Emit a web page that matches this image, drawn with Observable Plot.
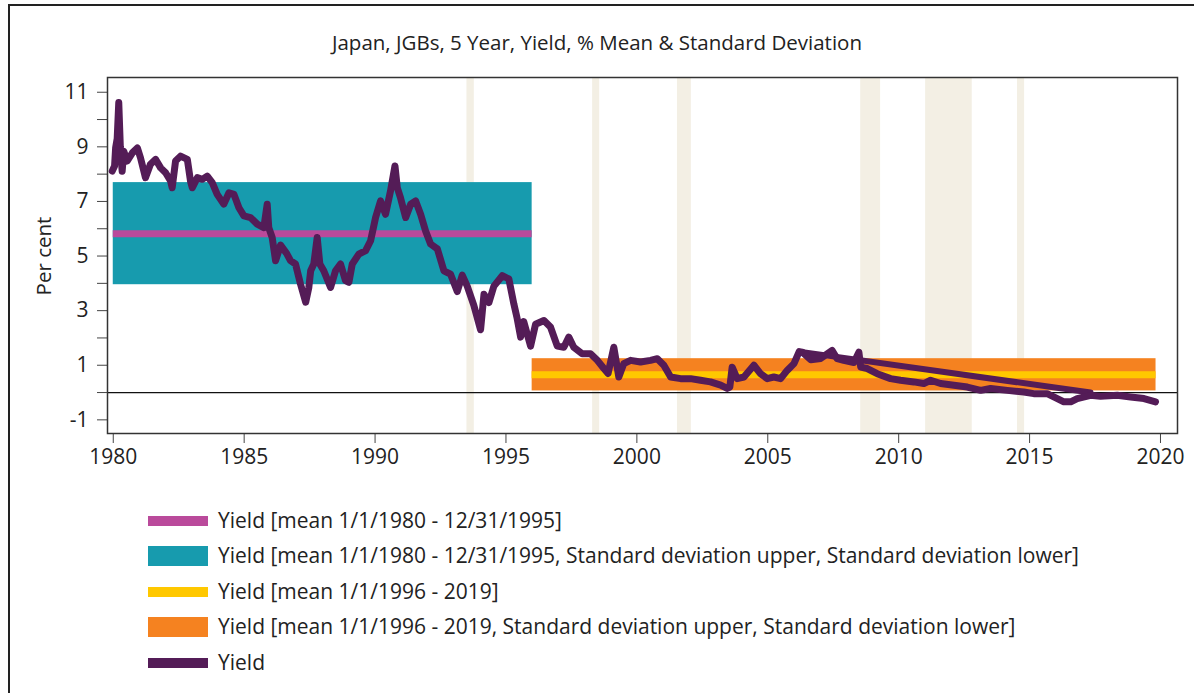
<!DOCTYPE html>
<html><head><meta charset="utf-8">
<script src="https://cdn.jsdelivr.net/npm/d3@7"></script>
<script src="https://cdn.jsdelivr.net/npm/@observablehq/plot@0.6"></script>
<style>
body{margin:0;background:#fff;}
#wrap{position:relative;width:1194px;height:693px;overflow:hidden;font-family:"Open Sans",sans-serif;color:#222;background:#fff;}
#bt{position:absolute;left:8px;top:4px;width:1186px;height:2px;background:#222;}
#bl{position:absolute;left:8px;top:4px;width:2px;height:689px;background:#222;}
#title{position:absolute;left:0;width:1194px;top:27px;text-align:center;font-size:20.5px;line-height:30px;}
#chart{position:absolute;left:0;top:65px;}
#ylab{position:absolute;left:43px;top:256px;transform:translate(-50%,-50%) rotate(-90deg);font-size:20.5px;white-space:nowrap;line-height:24px;}
.row{position:absolute;left:148px;height:36px;}
.sw{position:absolute;left:0;width:60px;}
.lt{position:absolute;left:70px;top:-1px;font-size:21px;line-height:36px;white-space:nowrap;}
</style></head>
<body><div id="wrap"><div id="bt"></div><div id="bl"></div>
<div id="title">Japan, JGBs, 5 Year, Yield, % Mean &amp; Standard Deviation</div>
<div id="chart"></div>
<div id="ylab">Per cent</div>
<div id="legend"></div>
</div>
<script>
// Yield series (decimal year, per cent)
const years = [1979.96,1980.05,1980.09,1980.15,1980.21,1980.27,1980.34,1980.40,1980.53,1980.73,1980.92,1981.04,1981.23,1981.42,1981.62,1981.81,1982.0,1982.19,1982.25,1982.38,1982.57,1982.83,1982.95,1983.02,1983.21,1983.40,1983.59,1983.78,1983.97,1984.22,1984.42,1984.61,1984.80,1984.99,1985.24,1985.50,1985.75,1985.88,1985.94,1986.07,1986.20,1986.39,1986.62,1986.77,1986.96,1987.15,1987.35,1987.47,1987.54,1987.66,1987.79,1987.89,1988.04,1988.30,1988.49,1988.68,1988.87,1989.0,1989.13,1989.38,1989.64,1989.83,1990.02,1990.21,1990.40,1990.59,1990.76,1990.85,1990.97,1991.17,1991.36,1991.55,1991.74,1991.93,1992.12,1992.38,1992.63,1992.88,1993.14,1993.33,1993.52,1993.77,1994.03,1994.16,1994.35,1994.54,1994.86,1995.11,1995.30,1995.43,1995.56,1995.68,1995.94,1996.13,1996.45,1996.70,1996.96,1997.21,1997.40,1997.59,1997.91,1998.23,1998.49,1998.74,1998.90,1999.12,1999.31,1999.50,1999.76,2000.14,2000.52,2000.78,2001.03,2001.29,2001.67,2002.05,2002.43,2002.81,2003.20,2003.45,2003.55,2003.64,2003.83,2004.09,2004.47,2004.72,2004.98,2005.23,2005.49,2005.74,2006.0,2006.2,2006.32,2006.64,2007.02,2007.46,2007.65,2007.9,2008.29,2008.48,2008.55,2008.8,2009.18,2009.69,2010.07,2010.58,2010.96,2011.22,2011.6,2012.11,2012.62,2013.13,2013.51,2014.15,2014.78,2015.16,2015.67,2016.06,2016.31,2016.57,2016.82,2017.33,2017.71,2018.35,2018.86,2019.37,2019.81];
const yields = [8.11,8.3,8.96,9.3,10.62,9.0,8.11,8.84,8.48,8.78,8.96,8.6,7.87,8.36,8.54,8.23,8.05,7.75,7.5,8.48,8.66,8.54,7.75,7.5,7.87,7.81,7.93,7.69,7.26,6.9,7.32,7.26,6.77,6.47,6.41,6.17,6.04,6.9,6.04,5.68,4.83,5.4,5.1,4.83,4.71,3.98,3.31,3.85,4.46,4.71,5.68,4.71,4.46,3.85,4.46,4.71,4.1,4.04,4.71,5.07,5.2,5.56,6.41,7.02,6.53,7.38,8.3,7.5,7.14,6.41,6.9,7.02,6.53,5.92,5.44,5.26,4.46,4.34,3.7,4.3,3.9,3.2,2.3,3.6,3.3,3.9,4.28,4.16,3.25,2.7,2.03,2.6,1.7,2.5,2.64,2.4,1.7,1.66,2.03,1.66,1.42,1.42,1.18,0.88,0.7,1.66,0.57,1.06,1.18,1.12,1.18,1.24,1.0,0.57,0.51,0.51,0.45,0.39,0.27,0.15,0.2,0.93,0.51,0.57,1.0,0.69,0.51,0.57,0.51,0.81,1.06,1.5,1.48,1.2,1.25,1.54,1.24,1.18,1.1,1.48,0.93,0.88,0.69,0.51,0.45,0.39,0.33,0.45,0.33,0.27,0.2,0.08,0.15,0.08,0.02,-0.04,-0.04,-0.22,-0.34,-0.34,-0.22,-0.1,-0.14,-0.1,-0.16,-0.22,-0.34];
// stray straight segment in the source series
const strayYears = [2006.2, 2017.33];
const strayYields = [1.5, 0.0];

// Sub-period means and standard deviation bands
const periodStart = [1980, 1996];
const periodEnd = [1996, 2019.83];
const periodMean = [5.82, 0.65];
const periodUpper = [7.69, 1.24];
const periodLower = [3.95, 0.06];

// Shaded periods
const shadeStart = [1993.51, 1998.31, 2001.55, 2008.55, 2011.03, 2014.54];
const shadeEnd = [1993.79, 1998.58, 2002.08, 2009.31, 2012.81, 2014.81];

// Axes
const xTicks = [1980, 1985, 1990, 1995, 2000, 2005, 2010, 2015, 2020];
const yTicks = [-1, 0, 1, 2, 3, 4, 5, 6, 7, 8, 9, 10, 11];
const yTickLabels = {"-1":"-1","1":"1","3":"3","5":"5","7":"7","9":"9","11":"11"};

// Legend
const legendLabels = [
  "Yield [mean 1/1/1980 - 12/31/1995]",
  "Yield [mean 1/1/1980 - 12/31/1995, Standard deviation upper, Standard deviation lower]",
  "Yield [mean 1/1/1996 - 2019]",
  "Yield [mean 1/1/1996 - 2019, Standard deviation upper, Standard deviation lower]",
  "Yield"
];
const legendColors = ["#BA4A9B", "#179BAE", "#FFC800", "#F58220", "#541C57"];
const legendKinds = ["line", "band", "line", "band", "line"];

const bandColors = ["#179BAE", "#F58220"];
const meanColors = ["#BA4A9B", "#FFC800"];

const yieldData = years.map((x, i) => ({x, y: yields[i]}));
const strayData = strayYears.map((x, i) => ({x, y: strayYields[i]}));
const periods = periodStart.map((s, i) => ({s, e: periodEnd[i], m: periodMean[i], u: periodUpper[i], l: periodLower[i], band: bandColors[i], mean: meanColors[i]}));
const shades = shadeStart.map((s, i) => ({s, e: shadeEnd[i]}));

const marks = [
  Plot.barX(shades, {x1: "s", x2: "e", fill: "#F3EFE4"})
];
periods.forEach(p => {
  marks.push(Plot.rect([p], {x1: "s", x2: "e", y1: "l", y2: "u", fill: p.band}));
  marks.push(Plot.ruleY([p], {x1: "s", x2: "e", y: "m", stroke: p.mean, strokeWidth: 7}));
});
marks.push(
  Plot.ruleY([0], {stroke: "#111", strokeWidth: 1.2}),
  Plot.line(strayData, {x: "x", y: "y", stroke: "#541C57", strokeWidth: 6}),
  Plot.line(yieldData, {x: "x", y: "y", stroke: "#541C57", strokeWidth: 7, strokeLinejoin: "round", strokeLinecap: "round"}),
  Plot.axisY({ticks: yTicks, tickFormat: d => yTickLabels[String(d)] || "", tickSize: 10, tickPadding: 9, fontSize: 21, label: null, stroke: "#444"}),
  Plot.axisX({ticks: xTicks, tickFormat: d => String(d), tickSize: 10, tickPadding: 6, fontSize: 21, label: null, stroke: "#444"}),
  Plot.frame({stroke: "#333", strokeWidth: 1.5})
);

const chart = Plot.plot({
  width: 1194, height: 420,
  marginLeft: 107, marginRight: 17, marginTop: 12, marginBottom: 52,
  x: {domain: [1979.78, 2020.65]},
  y: {domain: [-1.5, 11.54]},
  style: {fontFamily: "'Open Sans', sans-serif", color: "#222", background: "transparent"},
  marks
});
document.getElementById("chart").appendChild(chart);

const rowCenters = [521, 556, 592, 627, 663];
const leg = document.getElementById("legend");
legendLabels.forEach((t, i) => {
  const row = document.createElement("div");
  row.className = "row";
  row.style.top = (rowCenters[i] - 18) + "px";
  const sw = document.createElement("div");
  sw.className = "sw";
  const h = legendKinds[i] === "band" ? 20 : 10;
  sw.style.height = h + "px";
  sw.style.top = (18 - h / 2) + "px";
  sw.style.background = legendColors[i];
  const tx = document.createElement("div");
  tx.className = "lt";
  tx.textContent = t;
  row.appendChild(sw); row.appendChild(tx);
  leg.appendChild(row);
});
</script>
</body></html>
